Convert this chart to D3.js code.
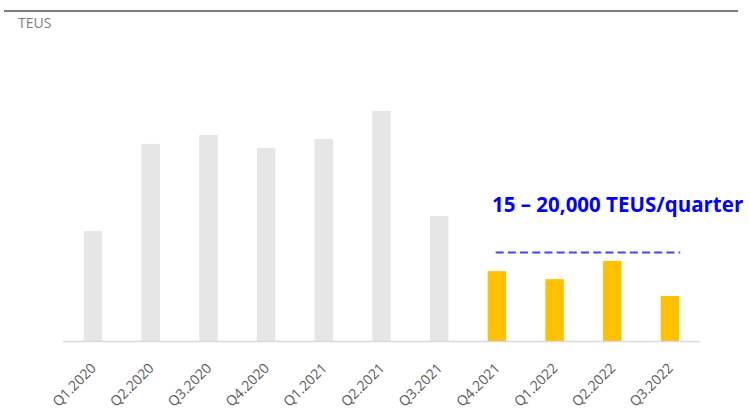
<!DOCTYPE html>
<html>
<head>
<meta charset="utf-8">
<script src="https://cdn.jsdelivr.net/npm/d3@7"></script>
<style>
  body { margin: 0; background: #fff; }
  svg { display: block; }
</style>
</head>
<body>
<svg id="chart"></svg>
<script>
// quarterly volumes (TEUS)
const quarters = ['Q1.2020','Q2.2020','Q3.2020','Q4.2020','Q1.2021','Q2.2021',
    'Q3.2021','Q4.2021','Q1.2022','Q2.2022','Q3.2022']
const teus = [24700, 44300, 46300, 43400, 45400, 51700, 28100, 15700, 13900, 18000, 10100]
const highlighted = ['Q4.2021','Q1.2022','Q2.2022','Q3.2022']
const targetTeus = 20000
const targetLabel = '15 \u2013 20,000 TEUS/quarter'
const unitLabel = 'TEUS'

const width = 749, height = 409
const font = '"Open Sans", sans-serif'

const svg = d3.select('svg#chart')
    .attr('width', width)
    .attr('height', height)

const x = d3.scaleBand()
    .domain(quarters)
    .range([63, 700])
    .paddingInner(0.68)
    .paddingOuter(0.36)

const y = d3.scaleLinear()
    .domain([0, 60000])
    .range([341, 74])

// top rule + unit
svg.append('line')
    .attr('x1', 4).attr('x2', 738)
    .attr('y1', 11).attr('y2', 11)
    .attr('stroke', '#808080')
    .attr('stroke-width', 2)

svg.append('text')
    .attr('x', 18)
    .attr('y', 28)
    .attr('fill', '#7f7f7f')
    .style('font-family', font)
    .style('font-size', '14px')
    .text(unitLabel)

// bars
svg.selectAll('rect.bar')
    .data(quarters)
    .enter()
    .append('rect')
    .attr('class', 'bar')
    .attr('x', d => x(d))
    .attr('width', x.bandwidth())
    .attr('y', (d, i) => y(teus[i]))
    .attr('height', (d, i) => y(0) - y(teus[i]))
    .attr('fill', d => highlighted.includes(d) ? '#ffc000' : '#e7e6e6')

// category axis
svg.append('line')
    .attr('x1', 63).attr('x2', 700)
    .attr('y1', y(0) + 0.5).attr('y2', y(0) + 0.5)
    .attr('stroke', '#d9d9d9')
    .attr('stroke-width', 1.5)

// rotated quarter labels (the reference crops them slightly at the bottom too)
svg.selectAll('text.tick')
    .data(quarters)
    .enter()
    .append('text')
    .attr('class', 'tick')
    .attr('text-anchor', 'end')
    .attr('transform', d => `translate(${x(d) + x.bandwidth() / 2 + 4},${y(0) + 28}) rotate(-45)`)
    .attr('fill', '#595959')
    .style('font-family', font)
    .style('font-size', '14px')
    .text(d => d)

// target band annotation
svg.append('line')
    .attr('x1', x(highlighted[0]) + 8)
    .attr('x2', x(highlighted[highlighted.length - 1]) + x.bandwidth() + 1)
    .attr('y1', y(targetTeus) + 0.5).attr('y2', y(targetTeus) + 0.5)
    .attr('stroke', '#4343ff')
    .attr('stroke-width', 2)
    .attr('stroke-dasharray', '8,4.2')

svg.append('text')
    .attr('x', 492)
    .attr('y', 212)
    .attr('fill', '#0000ff')
    .style('font-family', font)
    .style('font-size', '20.5px')
    .style('font-weight', 'bold')
    .text(targetLabel)
</script>
</body>
</html>
